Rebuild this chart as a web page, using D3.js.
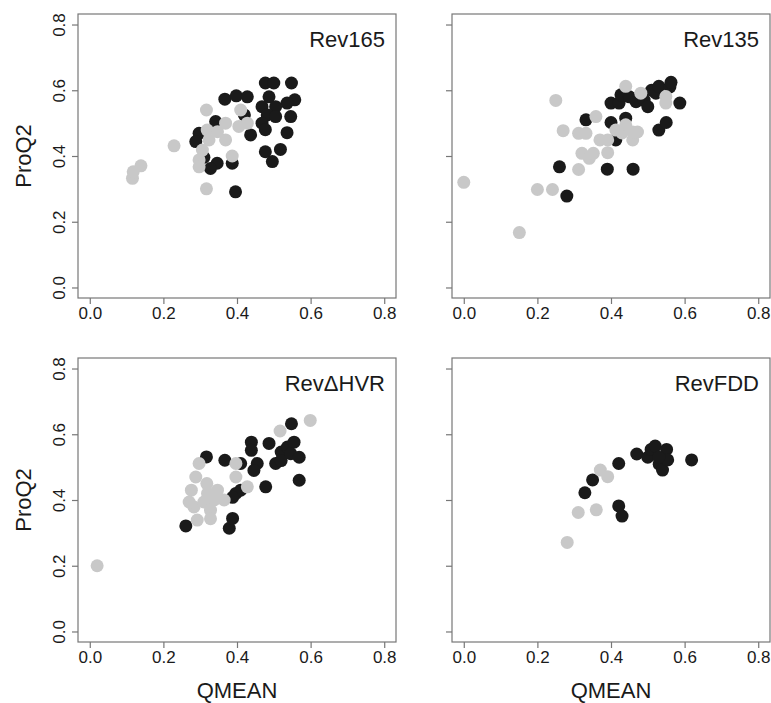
<!DOCTYPE html>
<html>
<head>
<meta charset="utf-8">
<script src="https://cdn.jsdelivr.net/npm/d3@7"></script>
<style>
  body { margin: 0; background: #fff; }
  svg { display: block; font-family: "Liberation Sans", Arial, Helvetica, sans-serif; }
</style>
</head>
<body>
<svg class="chart" width="771" height="703"></svg>
<script>
// QMEAN vs ProQ2, one panel per construct; [qmean, proq2]
var panelNames = ["Rev165", "Rev135", "Rev\u0394HVR", "RevFDD"];
var ticks = [0, 0.2, 0.4, 0.6, 0.8];

var rev165Black = [[0.477,0.622],[0.50,0.622],[0.548,0.622],[0.367,0.573],[0.398,0.583],[0.428,0.58],
    [0.487,0.58],[0.557,0.571],[0.536,0.561],[0.468,0.55],[0.505,0.55],[0.482,0.525],[0.546,0.52],
    [0.505,0.52],[0.42,0.525],[0.342,0.505],[0.468,0.50],[0.477,0.48],[0.437,0.464],[0.536,0.471],
    [0.297,0.469],[0.288,0.444],[0.477,0.413],[0.518,0.42],[0.496,0.383],[0.31,0.396],[0.346,0.378],
    [0.328,0.362],[0.387,0.378],[0.396,0.291]];
var rev165Grey = [[0.116,0.332],[0.118,0.352],[0.139,0.37],[0.229,0.431],[0.317,0.54],[0.317,0.30],
    [0.319,0.479],[0.369,0.50],[0.369,0.449],[0.347,0.474],[0.324,0.449],[0.306,0.418],[0.297,0.388],
    [0.297,0.367],[0.387,0.40],[0.41,0.54],[0.405,0.49],[0.428,0.50]];

var rev135Black = [[0.28,0.278],[0.26,0.367],[0.39,0.36],[0.46,0.36],[0.332,0.51],[0.40,0.502],
    [0.413,0.449],[0.44,0.515],[0.40,0.561],[0.422,0.561],[0.427,0.586],[0.45,0.58],[0.468,0.565],
    [0.49,0.57],[0.50,0.55],[0.51,0.60],[0.522,0.591],[0.53,0.612],[0.56,0.61],[0.563,0.624],
    [0.587,0.561],[0.53,0.479],[0.55,0.502]];
var rev135Grey = [[0.0,0.32],[0.151,0.167],[0.20,0.298],[0.241,0.298],[0.25,0.569],[0.27,0.477],
    [0.312,0.469],[0.332,0.469],[0.312,0.359],[0.321,0.408],[0.341,0.393],[0.352,0.408],[0.359,0.52],
    [0.37,0.449],[0.391,0.449],[0.391,0.41],[0.413,0.479],[0.43,0.47],[0.44,0.495],[0.44,0.612],
    [0.459,0.449],[0.472,0.473],[0.459,0.473],[0.481,0.591],[0.549,0.581],[0.549,0.561]];

var revHvrBlack = [[0.261,0.321],[0.379,0.314],[0.388,0.344],[0.317,0.531],[0.367,0.521],[0.41,0.511],
    [0.439,0.576],[0.439,0.551],[0.455,0.511],[0.446,0.49],[0.487,0.572],[0.505,0.511],[0.52,0.546],
    [0.52,0.52],[0.537,0.561],[0.555,0.576],[0.546,0.541],[0.569,0.53],[0.548,0.632],[0.569,0.46],
    [0.478,0.44],[0.397,0.42],[0.41,0.43],[0.388,0.408]];
var revHvrGrey = [[0.02,0.20],[0.599,0.642],[0.517,0.61],[0.297,0.511],[0.288,0.47],[0.318,0.45],
    [0.276,0.43],[0.347,0.43],[0.397,0.511],[0.397,0.47],[0.428,0.44],[0.365,0.40],[0.283,0.379],
    [0.31,0.394],[0.328,0.369],[0.292,0.339],[0.328,0.343],[0.338,0.40],[0.27,0.394],[0.32,0.42]];

var revFddBlack = [[0.329,0.422],[0.35,0.461],[0.421,0.511],[0.421,0.382],[0.43,0.351],[0.47,0.54],
    [0.50,0.53],[0.509,0.554],[0.52,0.564],[0.531,0.509],[0.54,0.491],[0.551,0.554],[0.554,0.522],
    [0.619,0.522],[0.53,0.53]];
var revFddGrey = [[0.281,0.271],[0.311,0.362],[0.36,0.37],[0.371,0.491],[0.391,0.471]];

var panelBlack = [rev165Black, rev135Black, revHvrBlack, revFddBlack];
var panelGrey = [rev165Grey, rev135Grey, revHvrGrey, revFddGrey];

var svg = d3.select(".chart");
var colLeft = [78, 452];
var rowTop = [14, 358];
var panelW = 318;
var panelH = 284;
var pad = 0.032; // R's 4% axis extension
var fmt = d3.format(".1f");
var textColor = "#1a1a1a";

panelNames.forEach(function (name, i) {
    var col = i % 2, row = Math.floor(i / 2);
    var left = colLeft[col], top = rowTop[row];

    var xScale = d3.scaleLinear().domain([-pad, 0.8 + pad]).range([left, left + panelW]);
    var yScale = d3.scaleLinear().domain([-pad, 0.8 + pad]).range([top + panelH, top]);

    var g = svg.append("g").attr("class", "panel");

    // points: black group first, grey on top
    g.selectAll(".black")
        .data(panelBlack[i])
        .enter().append("circle")
        .attr("class", "black")
        .attr("cx", function (d) { return xScale(d[0]); })
        .attr("cy", function (d) { return yScale(d[1]); })
        .attr("r", 6.5)
        .attr("fill", "#1a1a1a");

    g.selectAll(".grey")
        .data(panelGrey[i])
        .enter().append("circle")
        .attr("class", "grey")
        .attr("cx", function (d) { return xScale(d[0]); })
        .attr("cy", function (d) { return yScale(d[1]); })
        .attr("r", 6.5)
        .attr("fill", "#c8c8c8");

    g.append("rect")
        .attr("x", left)
        .attr("y", top)
        .attr("width", panelW)
        .attr("height", panelH)
        .attr("fill", "none")
        .attr("stroke", "#777")
        .attr("stroke-width", 1.2);

    var xAxis = g.append("g")
        .attr("transform", "translate(0," + (top + panelH) + ")")
        .call(d3.axisBottom(xScale).tickValues(ticks).tickSize(6).tickPadding(3).tickFormat(fmt));
    xAxis.select(".domain").remove();
    xAxis.selectAll("line").attr("stroke", "#777").attr("stroke-width", 1.2);
    xAxis.selectAll("text")
        .attr("fill", textColor)
        .style("font-size", "17px");

    var yAxis = g.append("g")
        .attr("transform", "translate(" + left + ",0)")
        .call(d3.axisLeft(yScale).tickValues(ticks).tickSize(6).tickFormat(fmt));
    yAxis.select(".domain").remove();
    yAxis.selectAll("line").attr("stroke", "#777").attr("stroke-width", 1.2);
    if (col === 0) {
        yAxis.selectAll("text")
            .attr("x", 0)
            .attr("dy", "0.35em")
            .attr("text-anchor", "middle")
            .attr("transform", "translate(-19,0) rotate(-90)")
            .attr("fill", textColor)
            .style("font-size", "17px");
        g.append("text")
            .attr("transform", "translate(23," + (top + panelH / 2) + ") rotate(-90)")
            .attr("dy", "0.35em")
            .attr("text-anchor", "middle")
            .attr("fill", textColor)
            .style("font-size", "22px")
            .text("ProQ2");
    } else {
        yAxis.selectAll("text").remove();
    }

    if (row === 1) {
        g.append("text")
            .attr("x", left + panelW / 2)
            .attr("y", 690)
            .attr("dy", "0.35em")
            .attr("text-anchor", "middle")
            .attr("fill", textColor)
            .style("font-size", "22px")
            .text("QMEAN");
    }

    g.append("text")
        .attr("x", left + panelW - 11)
        .attr("y", yScale(0.8) + 22)
        .attr("text-anchor", "end")
        .attr("fill", textColor)
        .style("font-size", "22px")
        .text(name);
});
</script>
</body>
</html>
